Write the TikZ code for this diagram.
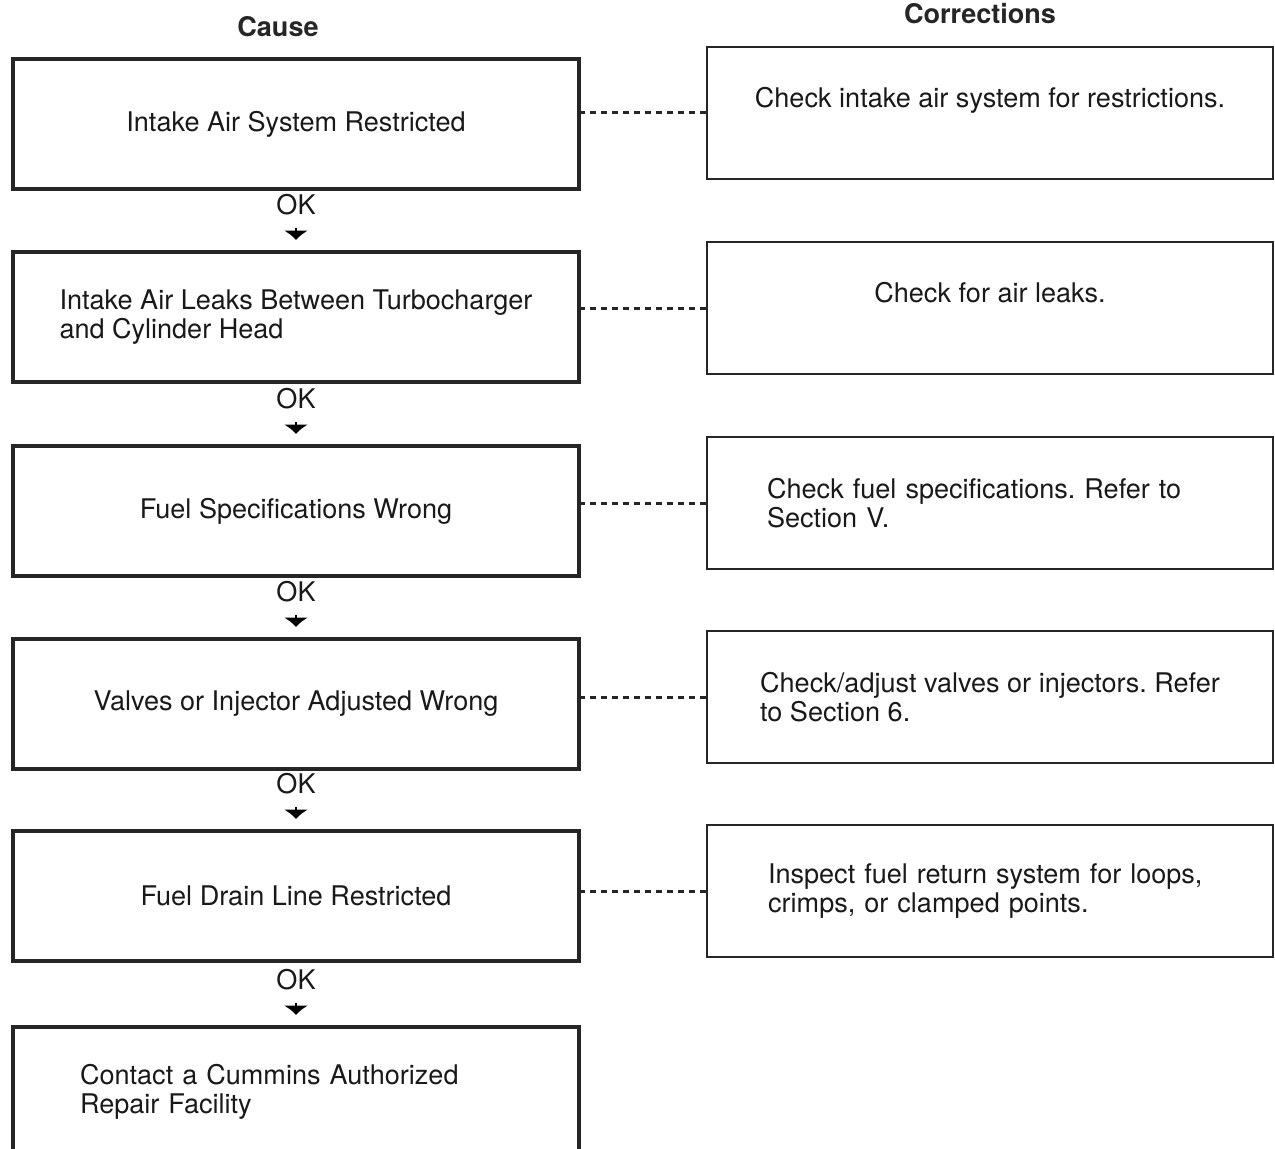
\documentclass[tikz,border=0pt]{standalone}
\usepackage{fontspec}
\setmainfont{TeX Gyre Heros}
\usetikzlibrary{arrows.meta}
\usetikzlibrary{positioning}

\newcommand{\chartfont}{\fontsize{15.4}{16.2}\selectfont\frenchspacing}

\tikzset{
  causebox/.style={draw=black!85,line width=0.08cm,minimum width=11.32cm,minimum height=2.6cm,inner sep=0pt,font=\chartfont,text=black!90},
  fixbox/.style={draw=black!85,line width=0.055cm,minimum width=11.32cm,minimum height=2.64cm,inner sep=0pt,font=\chartfont,text=black!90},
  fixtop/.style={text depth=0.62cm},
  headlabel/.style={font=\chartfont\bfseries,text=black!85},
  oklabel/.style={inner sep=0pt,font=\chartfont,text=black!90},
  okarrow/.style={-{Latex[length=0.19cm,width=0.5cm]},draw=black,line width=1pt,shorten <=0.26cm,shorten >=0.2cm},
  dotline/.style={draw=black!85,line width=0.06cm,dash pattern=on 0.12cm off 0.1cm}
}

\begin{document}
\begin{tikzpicture}[x=0.02cm,y=-0.02cm]
\useasboundingbox (0,0) rectangle (1275,1149);
\node[headlabel] (cause) at (278,27) {Cause};
\node[headlabel] (corr) at (980,14) {Corrections};

\node[causebox] (l1) at (296,124) {Intake Air System Restricted};
\node[causebox,align=left] (l2) at (296,317) {Intake Air Leaks Between Turbocharger\\and Cylinder Head};
\node[causebox] (l3) at (296,511) {Fuel Specifications Wrong};
\node[causebox] (l4) at (296,704) {Valves or Injector Adjusted Wrong};
\node[causebox] (l5) at (296,896) {Fuel Drain Line Restricted};
\node[causebox,align=left,text width=8.64cm] (l6) at (296,1092) {Contact a Cummins Authorized\\Repair Facility};

\node[fixbox,fixtop] (r1) at (990,113) {Check intake air system for restrictions.};
\node[fixbox,fixtop] (r2) at (990,308) {Check for air leaks.};
\node[fixbox,align=left,text width=8.92cm] (r3) at (990,503) {Check fuel specifications. Refer to\\Section V.};
\node[fixbox,align=left] (r4) at (990,697) {Check/adjust valves or injectors. Refer\\to Section 6.};
\node[fixbox,align=left,text width=8.88cm] (r5) at (990,891) {Inspect fuel return system for loops,\\crimps, or clamped points.};

\foreach \j in {2,...,6} {
  \node[oklabel,above=0.7cm of l\j] (ok\j) {OK};
  \draw[okarrow] (ok\j) -- (l\j);
}

\foreach \i in {1,...,5}
  \draw[dotline] (r\i.west) -- (r\i.west -| l\i.east);
\end{tikzpicture}
\end{document}
